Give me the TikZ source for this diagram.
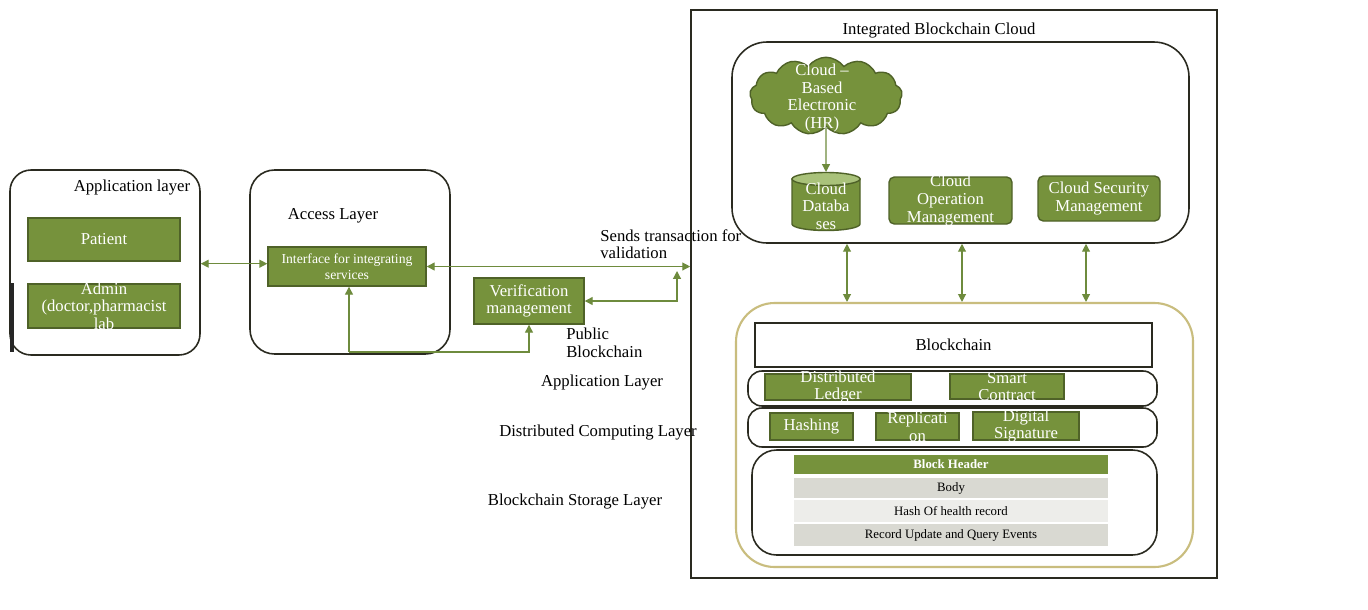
\documentclass[tikz,border=0pt]{standalone}
\usepackage{fontspec}
\setmainfont{Liberation Serif}
\usetikzlibrary{shapes.symbols,fit,arrows.meta,calc}
\definecolor{gfill}{HTML}{76923C}
\definecolor{gline}{HTML}{4F6228}
\definecolor{arr}{HTML}{6E8B3D}
\definecolor{frame}{HTML}{2A2A20}
\definecolor{gold}{HTML}{C9BD7E}
\definecolor{row1}{HTML}{D9D9D2}
\definecolor{row2}{HTML}{EDEDEA}
\definecolor{dbtop}{HTML}{A9C27A}
\begin{document}
\begin{tikzpicture}[x=0.02cm,y=-0.02cm,
  font=\fontsize{9.5}{10}\selectfont,
  >={Triangle[width=4.5pt,length=4.5pt]},
  gbox/.style={draw=gline, fill=gfill, line width=0.8pt, inner sep=0pt},
  gtxt/.style={text=white, align=center, inner sep=0pt},
  cont/.style={draw=frame, line width=0.9pt, inner sep=0pt},
  ar/.style={draw=arr, line width=0.7pt},
  lbl/.style={align=left, inner sep=0pt},
  rowbox/.style={inner sep=0pt},
  rowtxt/.style={font=\fontsize{7.3}{8}\selectfont}]
\fill[white] (0,0) rectangle (1368,609);
\useasboundingbox (0,0) rectangle (1368,609);

% ---------- Application layer ----------
\node[cont, rounded corners=12pt, fit={(10,170)(200,355)}] (appl) {};
\node at (132,188) (applt) {Application layer};
\node[gbox, fit={(28,218)(180,261)}, label={[gtxt]center:Patient}] (patient) {};
\node[gbox, fit={(28,284)(180,328)}, label={[gtxt]center:Admin\\(doctor,pharmacist\\lab}] (admin) {};
\draw[line width=2.5pt, black!85] (12,283) -- (12,352);

% ---------- Access layer ----------
\node[cont, rounded corners=14pt, fit={(250,170)(450,354)}] (acc) {};
\node at (333,216) (acct) {Access Layer};
\node[gbox, fit={(268,247)(426,286)}, label={[gtxt, font=\fontsize{7.8}{9}\selectfont]center:Interface for integrating\\services}] (iface) {};

% ---------- Verification ----------
\node[gbox, fit={(474,278)(584,324)}, label={[gtxt]center:Verification\\management}] (verif) {};
\node[lbl, anchor=north west] at (600,229) (sends) {Sends transaction for\\validation};
\node[lbl, anchor=north west] at (566,328) (pub) {Public\\Blockchain};

% ---------- Integrated Blockchain Cloud ----------
\node[draw=frame, line width=0.9pt, inner sep=0pt, fit={(691,10)(1217,578)}] (outer) {};
\node at (939,31) (outert) {Integrated Blockchain Cloud};
\node[cont, rounded corners=20pt, fit={(732,42)(1189,243)}] (cloudbox) {};

\node[cloud, cloud puffs=13, cloud puff arc=110, aspect=2, draw=gline, fill=gfill, line width=0.8pt,
      minimum width=3.05cm, minimum height=1.55cm, inner sep=0pt] at (826,96) (cloudn) {};
\node[gtxt] at (822,98) (cloudtxt) {Cloud --\\Based\\Electronic\\(HR)};

% database cylinder
\path[draw=gline, fill=gfill, line width=0.8pt] (792,179) -- (792,224)
  arc[start angle=180, end angle=360, x radius=0.68cm, y radius=0.13cm] -- (860,179) -- cycle;
\path[draw=gline, fill=dbtop, line width=0.8pt] (826,179) ellipse [x radius=0.68cm, y radius=0.13cm];
\coordinate (dbn) at (826,172);
\node[gtxt] at (826,206) (db) {Cloud\\Databa\\ses};

\node[gbox, rounded corners=3pt, fit={(889,177)(1012,224)}, label={[gtxt]center:Cloud\\Operation\\Management}] (cop) {};
\node[gbox, rounded corners=3pt, fit={(1038,176)(1160,221)}, label={[gtxt]center:Cloud Security\\Management}] (csec) {};

\draw[ar, ->] (cloudn.south) -- (dbn);

% ---------- Blockchain part ----------
\node[draw=gold, line width=1.2pt, rounded corners=22pt, inner sep=0pt, fit={(736,303)(1193,567)}] (bcout) {};
\node[draw=frame, line width=0.9pt, fill=white, inner sep=0pt, fit={(755,323)(1152,367)}, label={center:Blockchain}] (bc) {};

\node[cont, rounded corners=8pt, fit={(748,371)(1157,406)}] (rowapp) {};
\node[gbox, fit={(765,374)(911,400)}, label={[gtxt]center:Distributed\\Ledger}] (dl) {};
\node[gbox, fit={(950,374)(1064,399)}, label={[gtxt]center:Smart\\Contract}] (sc) {};

\node[cont, rounded corners=8pt, fit={(748,408)(1157,447)}] (rowdc) {};
\node[gbox, fit={(770,413)(853,440)}, label={[gtxt]center:Hashing}] (hash) {};
\node[gbox, fit={(876,413)(959,440)}, label={[gtxt]center:Replicati\\on}] (repl) {};
\node[gbox, fit={(973,412)(1079,440)}, label={[gtxt]center:Digital\\Signature}] (dsig) {};

\node[cont, rounded corners=14pt, fit={(752,450)(1157,555)}] (rowst) {};
\node[rowbox, fill=gfill, fit={(794,455)(1108,474)}, label={[text=white, font=\fontsize{7.3}{8}\selectfont\bfseries]center:Block Header}] (bh) {};
\node[rowbox, fill=row1, fit={(794,478)(1108,498)}, label={[rowtxt]center:Body}] (body) {};
\node[rowbox, fill=row2, fit={(794,500)(1108,522)}, label={[rowtxt]center:Hash Of health record}] (hrec) {};
\node[rowbox, fill=row1, fit={(794,524)(1108,546)}, label={[rowtxt]center:Record Update and Query Events}] (rqe) {};

% layer labels
\node at (602,383) (lapp) {Application Layer};
\node at (598,433) (ldc) {Distributed Computing Layer};
\node at (575,501) (lst) {Blockchain Storage Layer};

% ---------- Connectors ----------
\draw[ar, <->] (appl.east |- patient.south) ++(0,2) coordinate (aa) -- (aa -| iface.west);
\draw[ar, <->] (iface.east) -- (iface.east -| outer.west);
\coordinate (vtop) at (677,271);
\draw[ar, <->] (verif.east) -| (vtop);
\coordinate (accb) at (349,352);
\draw[ar, ->] (accb) -- (accb |- iface.south);
\draw[ar, ->] (accb) -| (verif.south);

\coordinate (c1) at (847,0);
\coordinate (c2) at (962,0);
\coordinate (c3) at (1086,0);
\draw[ar, <->] (cloudbox.south -| c1) -- (bcout.north -| c1);
\draw[ar, <->] (cloudbox.south -| c2) -- (bcout.north -| c2);
\draw[ar, <->] (cloudbox.south -| c3) -- (bcout.north -| c3);
\end{tikzpicture}
\end{document}
